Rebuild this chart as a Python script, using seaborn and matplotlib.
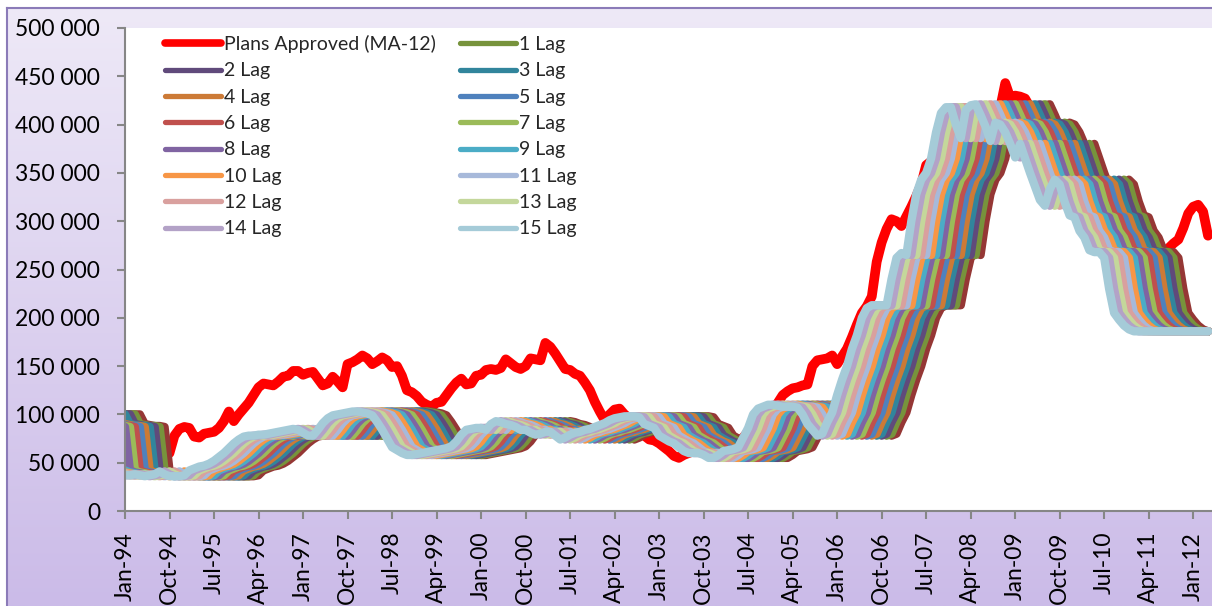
import matplotlib
matplotlib.use("Agg")
import matplotlib.pyplot as plt
from matplotlib.lines import Line2D
from matplotlib.ticker import FuncFormatter
import seaborn as sns
import numpy as np
import pandas as pd

# Monthly axis Jan-94 .. Apr-12
months = pd.date_range("1994-01-01", periods=220, freq="MS")

# Plans Approved, 12 month moving average
plans_approved = [
    48000, 50000, 52000, 54000, 55000, 56000, 57000, 57000, 56000, 60000, 78000, 85000,           # 1994
    87000, 86000, 77000, 76000, 80000, 81000, 82000, 86000, 93000, 103000, 93000, 100000,         # 1995
    106000, 112000, 120000, 128000, 132000, 131000, 130000, 134000, 139000, 140000, 145000, 145000,  # 1996
    141000, 143000, 144000, 137000, 130000, 132000, 139000, 134000, 128000, 152000, 154000, 157000,  # 1997
    161000, 158000, 152000, 155000, 159000, 156000, 149000, 150000, 140000, 125000, 123000, 119000,  # 1998
    113000, 110000, 108000, 112000, 113000, 120000, 127000, 133000, 137000, 131000, 132000, 140000,  # 1999
    141000, 146000, 147000, 146000, 148000, 157000, 153000, 149000, 147000, 150000, 158000, 157000,  # 2000
    156000, 174000, 170000, 163000, 155000, 147000, 146000, 142000, 140000, 133000, 125000, 113000,  # 2001
    103000, 94000, 100000, 105000, 106000, 100000, 96000, 92000, 85000, 78000, 74000, 73000,       # 2002
    70000, 66000, 62000, 57000, 55000, 58000, 60000, 62000, 63000, 64000, 66000, 67000,            # 2003
    68000, 70000, 72000, 73000, 72000, 76000, 82000, 88000, 94000, 99000, 103000, 106000,          # 2004
    112000, 120000, 124000, 127000, 128000, 130000, 131000, 150000, 156000, 157000, 158000, 161000,  # 2005
    152000, 160000, 168000, 180000, 193000, 205000, 212000, 222000, 258000, 278000, 292000, 302000,  # 2006
    300000, 295000, 305000, 315000, 326000, 338000, 358000, 362000, 368000, 375000, 382000, 390000,  # 2007
    395000, 400000, 405000, 410000, 412000, 414000, 415000, 416000, 416000, 418000, 443000, 428000,  # 2008
    430000, 429000, 427000, 418000, 412000, 405000, 398000, 392000, 386000, 378000, 371000, 362000,  # 2009
    354000, 346000, 337000, 330000, 322000, 316000, 309000, 301000, 296000, 290000, 286000, 282000,  # 2010
    280000, 278000, 276000, 275000, 272000, 268000, 266000, 272000, 277000, 281000, 293000, 308000,  # 2011
    315000, 317000, 310000, 285000,                                                                # 2012
]

# Series that is lagged, Oct-92 .. Apr-12 (15 months ahead of the x axis start)
lag_base = [
    100000, 100000, 100000, 100000, 90000, 89000, 88000, 88000, 87000,                    # Oct-92 .. Jun-93
    42000, 40000, 39000, 38000, 38000, 37000,                                             # Jul-93 .. Dec-93
    37000, 37000, 38000, 37000, 36000, 37000, 38000, 41000, 38000, 36000, 36000, 36000,   # 1994
    37000, 42000, 44000, 46000, 47000, 49000, 52000, 56000, 60000, 65000, 70000, 74000,   # 1995
    77000, 78000, 78000, 79000, 79000, 80000, 81000, 82000, 83000, 84000, 85000, 84000,   # 1996
    81000, 78000, 78000, 84000, 91000, 96000, 99000, 100000, 101000, 102000, 103000, 103000,  # 1997
    102000, 101000, 99000, 92000, 84000, 75000, 66000, 63000, 60000, 58000, 58000, 59000,  # 1998
    60000, 61000, 62000, 63000, 64000, 65000, 67000, 72000, 79000, 84000, 85000, 86000,   # 1999
    86000, 84000, 90000, 93000, 92000, 90000, 89000, 87000, 84000, 84000, 81000, 79000,   # 2000
    80000, 82000, 82000, 78000, 74000, 76000, 79000, 81000, 82000, 84000, 85000, 87000,   # 2001
    89000, 91000, 94000, 96000, 97000, 98000, 98000, 98000, 97000, 90000, 88000, 86000,   # 2002
    78000, 75000, 72000, 70000, 66000, 62000, 60000, 60000, 60000, 58000, 55000, 55000,   # 2003
    58000, 62000, 63000, 64000, 66000, 76000, 86000, 100000, 106000, 108000, 110000, 110000,  # 2004
    109000, 108000, 108000, 108000, 107000, 100000, 90000, 84000, 78000, 80000, 92000, 102000,  # 2005
    120000, 136000, 150000, 168000, 182000, 200000, 210000, 213000, 213000, 213000, 213000, 240000,  # 2006
    262000, 267000, 265000, 300000, 328000, 343000, 350000, 365000, 392000, 412000, 418000, 418000,  # 2007
    400000, 386000, 415000, 420000, 421000, 410000, 398000, 383000, 402000, 400000, 392000, 380000,  # 2008
    366000, 380000, 365000, 350000, 336000, 322000, 316000, 333000, 343000, 338000, 320000, 306000,  # 2009
    304000, 290000, 283000, 270000, 268000, 268000, 262000, 230000, 205000, 198000, 192000, 188000,  # 2010
    186000, 186000, 186000, 186000, 186000, 186000, 186000, 186000, 186000, 186000, 186000, 186000,  # 2011
    186000, 186000, 186000, 186000,                                                                  # 2012
]

# index 0 is the unlabelled series drawn furthest right, then 1 Lag .. 15 Lag
lag_labels = [None] + [f"{k} Lag" for k in range(1, 16)]
lag_colors = ["#953735", "#77933C", "#604A7B", "#31859C", "#CC7A36", "#4F81BD",
              "#C0504D", "#9BBB59", "#8064A2", "#4BACC6", "#F79646", "#A7B9DA",
              "#D9A09E", "#C4D79B", "#B3A2C7", "#A5CBD8"]

sns.set_style("white")
plt.rcParams["font.family"] = ["Lato", "DejaVu Sans"]

W, H = 1212, 606
fig = plt.figure(figsize=(W / 100, H / 100), dpi=100, facecolor="white")

# lavender chart area with gradient
bg = fig.add_axes([7 / W, 0, 1 - 7 / W, 1 - 8 / H], zorder=0)
top_c = np.array([238, 233, 247]) / 255
bot_c = np.array([203, 187, 232]) / 255
t = np.linspace(0, 1, 256)[:, None, None]
grad = top_c * (1 - t) + bot_c * t
grad = np.repeat(grad, 2, axis=1)
bg.imshow(grad, aspect="auto", extent=[0, 1, 0, 1], origin="upper")
bg.set_xticks([])
bg.set_yticks([])
for side in ["right", "bottom"]:
    bg.spines[side].set_visible(False)
for side in ["left", "top"]:
    bg.spines[side].set_color("#8B7BB8")
    bg.spines[side].set_linewidth(1.5)

ax = fig.add_axes([125 / W, (H - 511) / H, (W - 125) / W, (511 - 28) / H], zorder=1)
ax.set_facecolor("white")

x = np.arange(len(months))
line_kw = dict(solid_capstyle="round", solid_joinstyle="round", legend=False)

sns.lineplot(x=x, y=plans_approved, color="#FF0000", lw=7, ax=ax, **line_kw)
for k in range(16):
    sns.lineplot(x=x, y=lag_base[k:k + len(months)], color=lag_colors[k], lw=6, ax=ax, **line_kw)

ax.set_xlim(0, 219.8)
ax.set_ylim(0, 500000)
ax.set_yticks(range(0, 500001, 50000))
ax.yaxis.set_major_formatter(FuncFormatter(lambda v, p: f"{int(v):,}".replace(",", " ")))
tick_pos = list(range(0, len(months), 9))
ax.set_xticks(tick_pos)
ax.set_xticklabels([months[i].strftime("%b-%y") for i in tick_pos], rotation=90)
ax.set_xlabel("")
ax.set_ylabel("")

for side in ["top", "right"]:
    ax.spines[side].set_visible(False)
for side in ["left", "bottom"]:
    ax.spines[side].set_color("#868686")
    ax.spines[side].set_linewidth(1.5)
ax.tick_params(axis="both", direction="out", length=6, width=1.5, color="#868686",
               labelsize=16.5, labelcolor="black")
ax.tick_params(axis="y", pad=12)
ax.tick_params(axis="x", pad=9)
ax.tick_params(left=True, bottom=True)

# legend: two columns, filled column by column
def handle(color, lw):
    return Line2D([0], [0], color=color, lw=lw, solid_capstyle="round")

order = [2, 4, 6, 8, 10, 12, 14, 1, 3, 5, 7, 9, 11, 13, 15]
handles = [handle("#FF0000", 5.5)] + [handle(lag_colors[k], 3.8) for k in order[:7]]
labels = ["Plans Approved (MA-12)"] + [lag_labels[k] for k in order[:7]]
handles += [handle(lag_colors[k], 3.8) for k in order[7:]]
labels += [lag_labels[k] for k in order[7:]]
ax.legend(handles, labels, ncol=2, loc="upper left",
          bbox_to_anchor=(165 / W, 1 - 35 / H), bbox_transform=fig.transFigure,
          frameon=False, fontsize=14, handlelength=2.9, handletextpad=0.15,
          labelspacing=0.48, columnspacing=1.2, borderpad=0, borderaxespad=0)

fig.savefig("out.png", dpi=100)
